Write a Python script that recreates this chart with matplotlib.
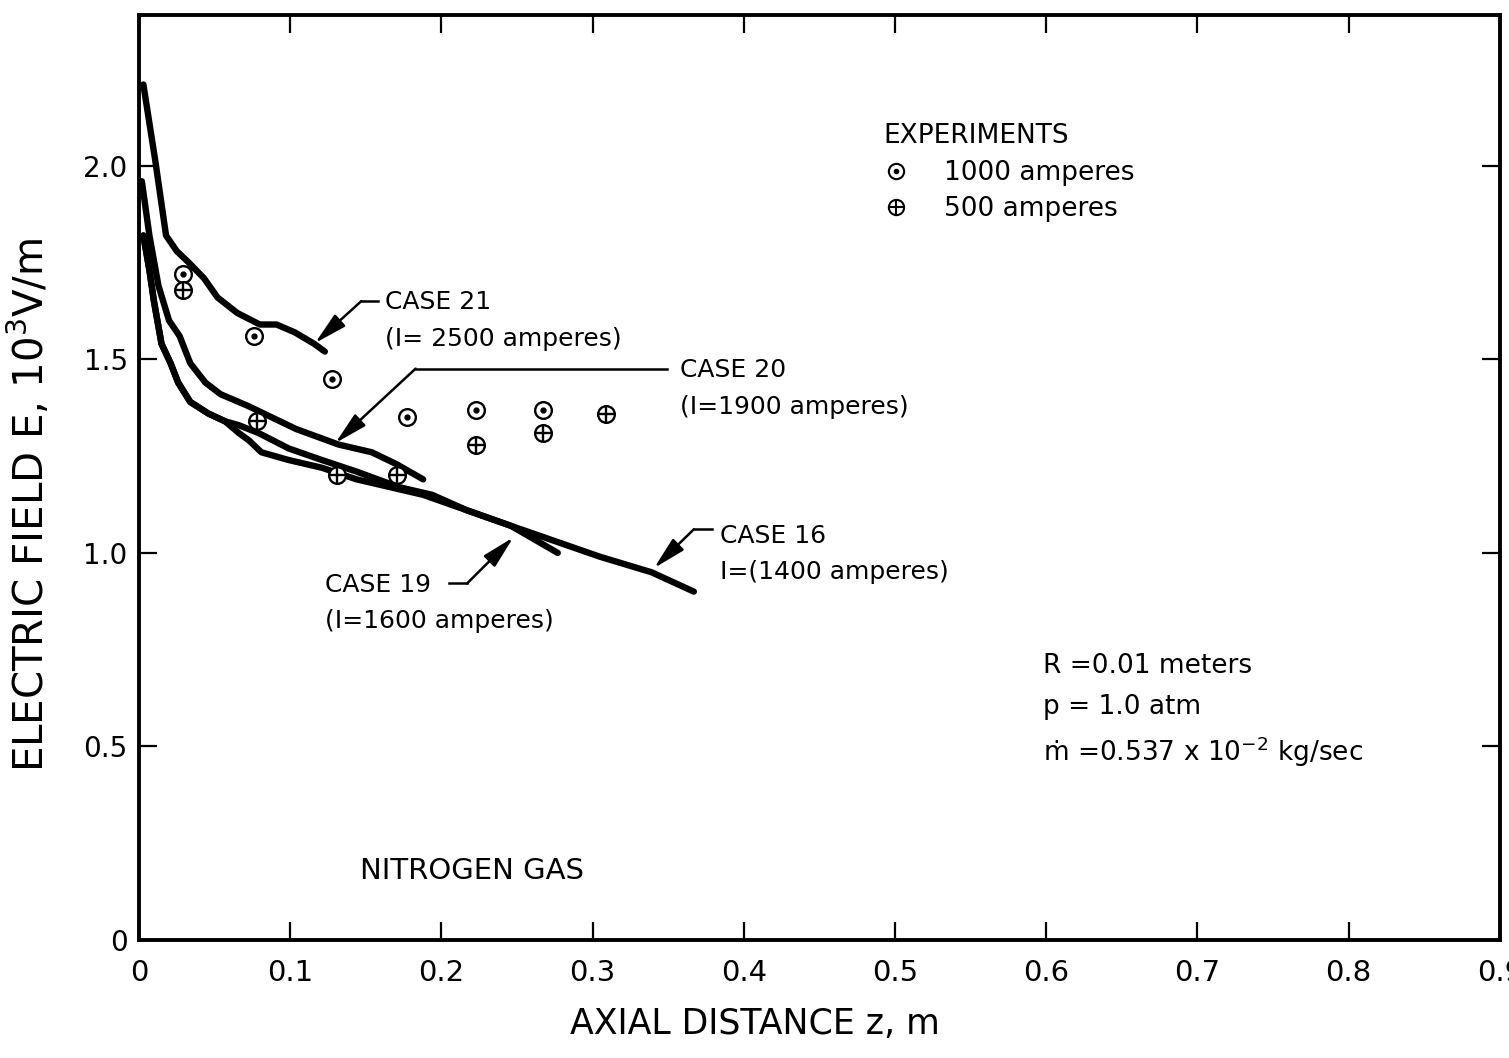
import matplotlib.pyplot as plt
from matplotlib.legend_handler import HandlerTuple
from matplotlib.lines import Line2D

# Computed electric field along the arc column, nitrogen gas
case21_z = [0.003, 0.011, 0.018, 0.025, 0.033, 0.043, 0.052, 0.065, 0.080, 0.091, 0.103, 0.116, 0.123]
case21_E = [2.21, 2.01, 1.82, 1.78, 1.75, 1.71, 1.66, 1.62, 1.59, 1.59, 1.57, 1.54, 1.52]

case20_z = [0.002, 0.007, 0.013, 0.020, 0.027, 0.034, 0.044, 0.054, 0.072, 0.088, 0.104, 0.132, 0.154, 0.170, 0.188]
case20_E = [1.96, 1.82, 1.69, 1.60, 1.56, 1.49, 1.44, 1.41, 1.38, 1.35, 1.32, 1.28, 1.26, 1.23, 1.19]

case19_z = [0.003, 0.007, 0.010, 0.015, 0.021, 0.026, 0.034, 0.046, 0.057, 0.066, 0.073, 0.081,
            0.099, 0.121, 0.144, 0.166, 0.188, 0.217, 0.246, 0.277]
case19_E = [1.82, 1.73, 1.65, 1.54, 1.49, 1.44, 1.39, 1.36, 1.34, 1.31, 1.29, 1.26,
            1.24, 1.22, 1.19, 1.17, 1.15, 1.11, 1.07, 1.00]

case16_z = [0.003, 0.007, 0.010, 0.015, 0.021, 0.026, 0.034, 0.046, 0.057, 0.066, 0.079, 0.099,
            0.121, 0.144, 0.172, 0.194, 0.217, 0.246, 0.305, 0.339, 0.367]
case16_E = [1.82, 1.73, 1.65, 1.54, 1.49, 1.44, 1.39, 1.36, 1.34, 1.33, 1.31, 1.27,
            1.24, 1.21, 1.17, 1.15, 1.11, 1.07, 0.99, 0.95, 0.90]

# Measurements
exp1000_z = [0.029, 0.076, 0.128, 0.177, 0.223, 0.267]
exp1000_E = [1.72, 1.56, 1.45, 1.35, 1.37, 1.37]
exp500_z = [0.029, 0.078, 0.131, 0.171, 0.223, 0.267, 0.309]
exp500_E = [1.68, 1.34, 1.20, 1.20, 1.28, 1.31, 1.36]

x_ticks = [0, 0.1, 0.2, 0.3, 0.4, 0.5, 0.6, 0.7, 0.8, 0.9]
x_labels = ['0', '0.1', '0.2', '0.3', '0.4', '0.5', '0.6', '0.7', '0.8', '0.9']
y_ticks = [0, 0.5, 1.0, 1.5, 2.0]
y_labels = ['0', '0.5', '1.0', '1.5', '2.0']

plt.rcParams['font.family'] = ['DejaVu Sans']

fig = plt.figure(figsize=(15.09, 10.58), dpi=100)
ax = fig.add_axes([0.092, 0.1115, 0.902, 0.8745])

for z, E in [(case21_z, case21_E), (case20_z, case20_E), (case19_z, case19_E), (case16_z, case16_E)]:
    ax.plot(z, E, color='black', lw=4.6, solid_capstyle='round', solid_joinstyle='round')

mk = dict(ls='', color='black', ms=12, mew=1.7)
ax.plot(exp1000_z, exp1000_E, marker='o', mfc='white', **mk)
ax.plot(exp1000_z, exp1000_E, marker='o', ls='', color='black', ms=3.5)
ax.plot(exp500_z, exp500_E, marker='o', mfc='white', **mk)
ax.plot(exp500_z, exp500_E, marker='+', **mk)

ax.set_xlim(0, 0.9)
ax.set_ylim(0, 2.39)
ax.set_xticks(x_ticks)
ax.set_xticklabels(x_labels, fontsize=21)
ax.set_yticks(y_ticks)
ax.set_yticklabels(y_labels, fontsize=20)
ax.tick_params(direction='in', length=13, width=1.6, top=True, right=True)
ax.tick_params(axis='x', pad=14)
ax.tick_params(axis='y', pad=8)
for sp in ax.spines.values():
    sp.set_linewidth(2.8)

ax.set_xlabel('AXIAL DISTANCE z, m', fontsize=25)
ax.xaxis.set_label_coords(0.453, -0.072)
ax.set_ylabel('ELECTRIC FIELD E, 10$^3$V/m', fontsize=29, labelpad=0)
ax.yaxis.set_label_coords(-0.063, 0.47)

# Case labels with leader lines
arrow = dict(arrowstyle='-|>,head_length=1.0,head_width=0.24', lw=1.8, color='black',
             shrinkA=0, shrinkB=0, mutation_scale=20)
leaders = [
    # (text, text position, corner, tip, end of horizontal leg)
    ('CASE 21\n(I= 2500 amperes)', (0.163, 1.60), (0.147, 1.65), (0.1165, 1.542), 0.158),
    ('CASE 20\n(I=1900 amperes)', (0.358, 1.425), (0.183, 1.476), (0.130, 1.284), 0.349),
    ('CASE 19\n(I=1600 amperes)', (0.1234, 0.87), (0.217, 0.921), (0.2476, 1.040), 0.205),
    ('CASE 16\nI=(1400 amperes)', (0.384, 0.997), (0.367, 1.061), (0.3407, 0.961), 0.379),
]
for label, (tx, ty), (cx, cy), tip, hx in leaders:
    ax.text(tx, ty, label, fontsize=18, ha='left', va='center', linespacing=1.65)
    ax.plot([cx, hx], [cy, cy], color='black', lw=1.8)
    ax.annotate('', xy=tip, xytext=(cx, cy), arrowprops=arrow)

# Legend for the measurements
h1 = (Line2D([], [], marker='o', mfc='white', ls='', color='black', ms=11, mew=1.5),
      Line2D([], [], marker='o', ls='', color='black', ms=3))
h2 = (Line2D([], [], marker='o', mfc='white', ls='', color='black', ms=11, mew=1.5),
      Line2D([], [], marker='+', ls='', color='black', ms=11, mew=1.5))
leg = ax.legend([h1, h2], ['1000 amperes', '500 amperes'], title='EXPERIMENTS',
                handler_map={tuple: HandlerTuple(ndivide=1, pad=0)},
                loc='upper left', bbox_to_anchor=(0.537, 0.897), frameon=False,
                fontsize=19, title_fontsize=19, alignment='left',
                handlelength=1.0, handletextpad=1.3, labelspacing=0.4, borderpad=0)

ax.text(0.598, 0.708, 'R =0.01 meters', fontsize=19, va='center')
ax.text(0.598, 0.602, 'p = 1.0 atm', fontsize=19, va='center')
ax.text(0.598, 0.486, 'ṁ =0.537 x 10$^{-2}$ kg/sec', fontsize=19, va='center')
ax.text(0.146, 0.178, 'NITROGEN GAS', fontsize=21, va='center')

fig.savefig('out.png', dpi=100)
